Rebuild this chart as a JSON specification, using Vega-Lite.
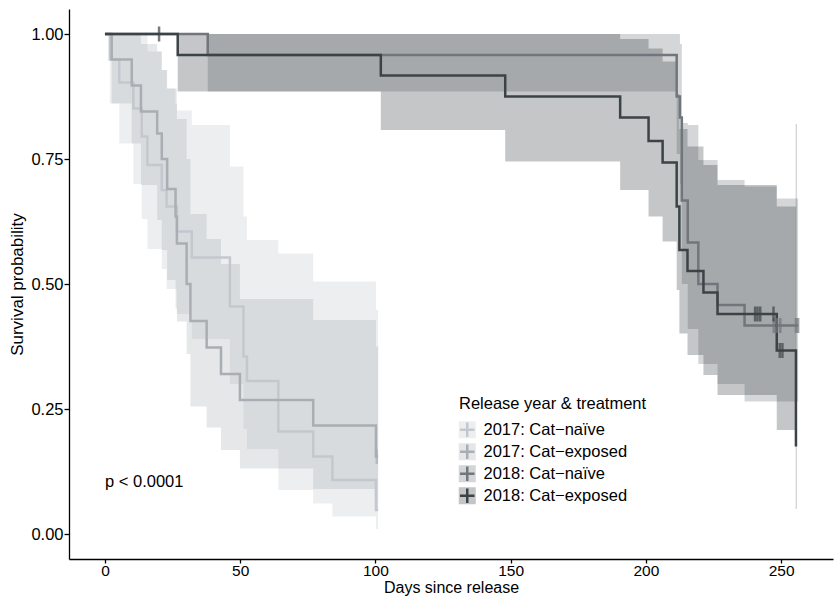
{
  "$schema": "https://vega.github.io/schema/vega-lite/v6.json",
  "width": 764,
  "height": 550,
  "autosize": {"type": "none"},
  "padding": {"left": 69, "top": 9, "right": 4, "bottom": 38},
  "background": "white",
  "config": {
    "view": {"stroke": null},
    "font": "Liberation Sans",
    "axis": {
      "grid": false,
      "domainColor": "black",
      "domainWidth": 1.3,
      "tickColor": "black",
      "tickWidth": 1.3,
      "tickSize": 5,
      "labelColor": "black",
      "labelFont": "Liberation Sans",
      "labelFontSize": 16.5,
      "titleFont": "Liberation Sans",
      "titleFontSize": 17,
      "titleFontWeight": "normal",
      "titleColor": "black"
    },
    "legend": {
      "labelFont": "Liberation Sans",
      "titleFont": "Liberation Sans"
    }
  },
  "datasets": {
    "km": [
      {"g": "2017: Cat−naïve", "k": "a", "t": 0, "s": 1, "lo": 1, "hi": 1},
      {"g": "2017: Cat−naïve", "k": "a", "t": 1.8, "s": 0.949, "lo": 0.861, "hi": 1},
      {"g": "2017: Cat−naïve", "k": "a", "t": 5.3, "s": 0.903, "lo": 0.781, "hi": 1},
      {"g": "2017: Cat−naïve", "k": "a", "t": 10.5, "s": 0.851, "lo": 0.7, "hi": 1},
      {"g": "2017: Cat−naïve", "k": "a", "t": 13.6, "s": 0.795, "lo": 0.63, "hi": 1},
      {"g": "2017: Cat−naïve", "k": "a", "t": 15.7, "s": 0.738, "lo": 0.57, "hi": 0.965},
      {"g": "2017: Cat−naïve", "k": "a", "t": 21, "s": 0.688, "lo": 0.53, "hi": 0.928},
      {"g": "2017: Cat−naïve", "k": "a", "t": 22.8, "s": 0.655, "lo": 0.49, "hi": 0.891},
      {"g": "2017: Cat−naïve", "k": "a", "t": 26.6, "s": 0.605, "lo": 0.44, "hi": 0.847},
      {"g": "2017: Cat−naïve", "k": "a", "t": 32.1, "s": 0.553, "lo": 0.39, "hi": 0.818},
      {"g": "2017: Cat−naïve", "k": "a", "t": 46.2, "s": 0.455, "lo": 0.3, "hi": 0.735},
      {"g": "2017: Cat−naïve", "k": "a", "t": 51.2, "s": 0.355, "lo": 0.21, "hi": 0.635},
      {"g": "2017: Cat−naïve", "k": "a", "t": 52.5, "s": 0.306, "lo": 0.17, "hi": 0.588},
      {"g": "2017: Cat−naïve", "k": "a", "t": 64.1, "s": 0.205, "lo": 0.088, "hi": 0.561},
      {"g": "2017: Cat−naïve", "k": "a", "t": 77, "s": 0.155, "lo": 0.061, "hi": 0.505},
      {"g": "2017: Cat−naïve", "k": "a", "t": 84.1, "s": 0.108, "lo": 0.035, "hi": 0.505},
      {"g": "2017: Cat−naïve", "k": "a", "t": 100.2, "s": 0.048, "lo": 0.01, "hi": 0.448},
      {"g": "2017: Cat−naïve", "k": "a", "t": 101, "s": 0.048, "lo": 0.01, "hi": 0.448},
      {"g": "2017: Cat−exposed", "k": "b", "t": 0, "s": 1, "lo": 1, "hi": 1},
      {"g": "2017: Cat−exposed", "k": "b", "t": 2.5, "s": 0.949, "lo": 0.861, "hi": 1},
      {"g": "2017: Cat−exposed", "k": "b", "t": 9.9, "s": 0.897, "lo": 0.781, "hi": 1},
      {"g": "2017: Cat−exposed", "k": "b", "t": 13.3, "s": 0.845, "lo": 0.698, "hi": 0.98},
      {"g": "2017: Cat−exposed", "k": "b", "t": 19.3, "s": 0.801, "lo": 0.628, "hi": 0.965},
      {"g": "2017: Cat−exposed", "k": "b", "t": 21, "s": 0.75, "lo": 0.568, "hi": 0.928},
      {"g": "2017: Cat−exposed", "k": "b", "t": 23, "s": 0.69, "lo": 0.508, "hi": 0.891},
      {"g": "2017: Cat−exposed", "k": "b", "t": 26.1, "s": 0.635, "lo": 0.451, "hi": 0.861},
      {"g": "2017: Cat−exposed", "k": "b", "t": 26.6, "s": 0.581, "lo": 0.425, "hi": 0.83},
      {"g": "2017: Cat−exposed", "k": "b", "t": 30.2, "s": 0.5, "lo": 0.36, "hi": 0.75},
      {"g": "2017: Cat−exposed", "k": "b", "t": 31.6, "s": 0.426, "lo": 0.255, "hi": 0.64},
      {"g": "2017: Cat−exposed", "k": "b", "t": 37.6, "s": 0.373, "lo": 0.213, "hi": 0.59},
      {"g": "2017: Cat−exposed", "k": "b", "t": 42.9, "s": 0.32, "lo": 0.168, "hi": 0.54},
      {"g": "2017: Cat−exposed", "k": "b", "t": 49.9, "s": 0.268, "lo": 0.131, "hi": 0.47},
      {"g": "2017: Cat−exposed", "k": "b", "t": 77, "s": 0.217, "lo": 0.09, "hi": 0.428},
      {"g": "2017: Cat−exposed", "k": "b", "t": 100.2, "s": 0.155, "lo": 0.05, "hi": 0.375},
      {"g": "2017: Cat−exposed", "k": "b", "t": 101, "s": 0.155, "lo": 0.05, "hi": 0.375},
      {"g": "2018: Cat−naïve", "k": "c", "t": 0, "s": 1, "lo": 1, "hi": 1},
      {"g": "2018: Cat−naïve", "k": "c", "t": 38, "s": 0.958, "lo": 0.885, "hi": 1},
      {"g": "2018: Cat−naïve", "k": "c", "t": 211.4, "s": 0.875, "lo": 0.76, "hi": 1},
      {"g": "2018: Cat−naïve", "k": "c", "t": 212.6, "s": 0.833, "lo": 0.7, "hi": 0.98},
      {"g": "2018: Cat−naïve", "k": "c", "t": 213.3, "s": 0.667, "lo": 0.5, "hi": 0.822},
      {"g": "2018: Cat−naïve", "k": "c", "t": 215.5, "s": 0.583, "lo": 0.41, "hi": 0.818},
      {"g": "2018: Cat−naïve", "k": "c", "t": 219.4, "s": 0.5, "lo": 0.34, "hi": 0.748},
      {"g": "2018: Cat−naïve", "k": "c", "t": 226.5, "s": 0.458, "lo": 0.3, "hi": 0.708},
      {"g": "2018: Cat−naïve", "k": "c", "t": 236.5, "s": 0.417, "lo": 0.265, "hi": 0.695},
      {"g": "2018: Cat−naïve", "k": "c", "t": 248.4, "s": 0.417, "lo": 0.265, "hi": 0.671},
      {"g": "2018: Cat−naïve", "k": "c", "t": 256.3, "s": 0.417, "lo": 0.265, "hi": 0.671},
      {"g": "2018: Cat−exposed", "k": "d", "t": 0, "s": 1, "lo": 1, "hi": 1},
      {"g": "2018: Cat−exposed", "k": "d", "t": 26.9, "s": 0.958, "lo": 0.885, "hi": 1},
      {"g": "2018: Cat−exposed", "k": "d", "t": 102, "s": 0.917, "lo": 0.808, "hi": 1},
      {"g": "2018: Cat−exposed", "k": "d", "t": 148, "s": 0.875, "lo": 0.745, "hi": 1},
      {"g": "2018: Cat−exposed", "k": "d", "t": 190.5, "s": 0.833, "lo": 0.688, "hi": 0.99},
      {"g": "2018: Cat−exposed", "k": "d", "t": 201, "s": 0.786, "lo": 0.635, "hi": 0.971},
      {"g": "2018: Cat−exposed", "k": "d", "t": 206.2, "s": 0.743, "lo": 0.585, "hi": 0.945},
      {"g": "2018: Cat−exposed", "k": "d", "t": 211.4, "s": 0.655, "lo": 0.488, "hi": 0.88},
      {"g": "2018: Cat−exposed", "k": "d", "t": 212.4, "s": 0.568, "lo": 0.401, "hi": 0.81},
      {"g": "2018: Cat−exposed", "k": "d", "t": 215.4, "s": 0.526, "lo": 0.358, "hi": 0.775},
      {"g": "2018: Cat−exposed", "k": "d", "t": 221.3, "s": 0.483, "lo": 0.318, "hi": 0.738},
      {"g": "2018: Cat−exposed", "k": "d", "t": 226.5, "s": 0.44, "lo": 0.278, "hi": 0.698},
      {"g": "2018: Cat−exposed", "k": "d", "t": 248.4, "s": 0.367, "lo": 0.208, "hi": 0.655},
      {"g": "2018: Cat−exposed", "k": "d", "t": 255.5, "s": 0.175, "lo": 0.04, "hi": 0.82}
    ],
    "edge": [
      {"t": 255.6, "lo": 0.05, "hi": 0.82}
    ],
    "cens": [
      {"g": "2017: Cat−exposed", "t": 100.5, "s": 0.155},
      {"g": "2018: Cat−naïve", "t": 247.3, "s": 0.417},
      {"g": "2018: Cat−naïve", "t": 248.5, "s": 0.417},
      {"g": "2018: Cat−naïve", "t": 249.7, "s": 0.417},
      {"g": "2018: Cat−naïve", "t": 255.5, "s": 0.417},
      {"g": "2018: Cat−naïve", "t": 256.3, "s": 0.417},
      {"g": "2018: Cat−exposed", "t": 20, "s": 1},
      {"g": "2018: Cat−exposed", "t": 240.4, "s": 0.44},
      {"g": "2018: Cat−exposed", "t": 241.3, "s": 0.44},
      {"g": "2018: Cat−exposed", "t": 242.3, "s": 0.44},
      {"g": "2018: Cat−exposed", "t": 247.2, "s": 0.44},
      {"g": "2018: Cat−exposed", "t": 249.5, "s": 0.367},
      {"g": "2018: Cat−exposed", "t": 250.5, "s": 0.367}
    ],
    "pv": [
      {"t": 0, "s": 0.104, "label": "p < 0.0001"}
    ]
  },
  "layer": [
    {
      "data": {"name": "km"},
      "mark": {"type": "area", "interpolate": "step-after", "opacity": 0.3},
      "encoding": {
        "x": {"field": "t", "type": "quantitative", "scale": {"domain": [-13.3, 269.2], "nice": false, "zero": false},
              "axis": {"values": [0, 50, 100, 150, 200, 250], "title": "Days since release", "tickSize": 4, "labelPadding": 0, "titlePadding": 1, "labelFontSize": 15.5, "titleFontSize": 16}},
        "y": {"field": "lo", "type": "quantitative", "scale": {"domain": [-0.05, 1.05], "nice": false, "zero": false},
              "axis": {"values": [0, 0.25, 0.5, 0.75, 1], "format": ".2f", "title": "Survival probability", "labelPadding": 1, "titlePadding": 4}},
        "y2": {"field": "hi"},
        "fill": {"field": "g", "type": "nominal",
                 "scale": {"domain": ["2017: Cat−naïve", "2017: Cat−exposed", "2018: Cat−naïve", "2018: Cat−exposed"],
                           "range": ["#c4c8ce", "#a9aeb4", "#70767c", "#3c4347"]},
                 "legend": {"orient": "none", "legendX": 390, "legendY": 387, "title": "Release year & treatment",
                            "titleFontSize": 16.5, "titleFontWeight": "normal", "titleColor": "black", "titlePadding": 9, "titleLimit": 400,
                            "labelFontSize": 16.5, "labelColor": "black", "labelOffset": 8, "labelLimit": 400,
                            "symbolType": "M-2,-2H2V2H-2Z", "symbolSize": 72.25, "symbolOpacity": 0.3,
                            "symbolStrokeWidth": 2.5, "symbolStrokeColor": "rgba(0,0,0,0)", "rowPadding": -10.8}}
      }
    },
    {
      "data": {"name": "edge"},
      "mark": {"type": "rule", "color": "#3c4347", "opacity": 0.3, "strokeWidth": 1},
      "encoding": {
        "x": {"field": "t", "type": "quantitative", "scale": {"domain": [-13.3, 269.2], "nice": false, "zero": false}},
        "y": {"field": "lo", "type": "quantitative", "scale": {"domain": [-0.05, 1.05], "nice": false, "zero": false}},
        "y2": {"field": "hi"}
      }
    },
    {
      "data": {"name": "km"},
      "mark": {"type": "line", "interpolate": "step-after", "strokeWidth": 2.5},
      "encoding": {
        "x": {"field": "t", "type": "quantitative", "scale": {"domain": [-13.3, 269.2], "nice": false, "zero": false}},
        "y": {"field": "s", "type": "quantitative", "scale": {"domain": [-0.05, 1.05], "nice": false, "zero": false}},
        "stroke": {"field": "k", "type": "nominal",
                   "scale": {"domain": ["a", "b", "c", "d"],
                             "range": ["#c4c8ce", "#a9aeb4", "#70767c", "#3c4347"]},
                   "legend": {"orient": "none", "legendX": 390, "legendY": 387, "title": "Release year & treatment",
                              "titleFontSize": 16.5, "titleFontWeight": "normal", "titleColor": "rgba(0,0,0,0)", "titlePadding": 9, "titleLimit": 400,
                              "labelFontSize": 16.5, "labelExpr": "''", "labelOffset": 8,
                              "symbolType": "M-2,-2M2,2M-1.7,0H1.7M0,-1.7V1.7", "symbolSize": 72.25,
                              "symbolStrokeWidth": 2.5, "symbolFillColor": "rgba(0,0,0,0)", "symbolOpacity": 1, "rowPadding": -10.8}}
      }
    },
    {
      "data": {"name": "cens"},
      "mark": {"type": "tick", "orient": "vertical", "size": 15, "thickness": 2.5},
      "encoding": {
        "x": {"field": "t", "type": "quantitative", "scale": {"domain": [-13.3, 269.2], "nice": false, "zero": false}},
        "y": {"field": "s", "type": "quantitative", "scale": {"domain": [-0.05, 1.05], "nice": false, "zero": false}},
        "color": {"field": "g", "type": "nominal",
                  "scale": {"domain": ["2017: Cat−naïve", "2017: Cat−exposed", "2018: Cat−naïve", "2018: Cat−exposed"],
                            "range": ["#c4c8ce", "#a9aeb4", "#70767c", "#3c4347"]},
                  "legend": null}
      }
    },
    {
      "data": {"name": "pv"},
      "mark": {"type": "text", "align": "left", "baseline": "middle", "fontSize": 16.5, "color": "black"},
      "encoding": {
        "x": {"field": "t", "type": "quantitative", "scale": {"domain": [-13.3, 269.2], "nice": false, "zero": false}},
        "y": {"field": "s", "type": "quantitative", "scale": {"domain": [-0.05, 1.05], "nice": false, "zero": false}},
        "text": {"field": "label"}
      }
    }
  ]
}
